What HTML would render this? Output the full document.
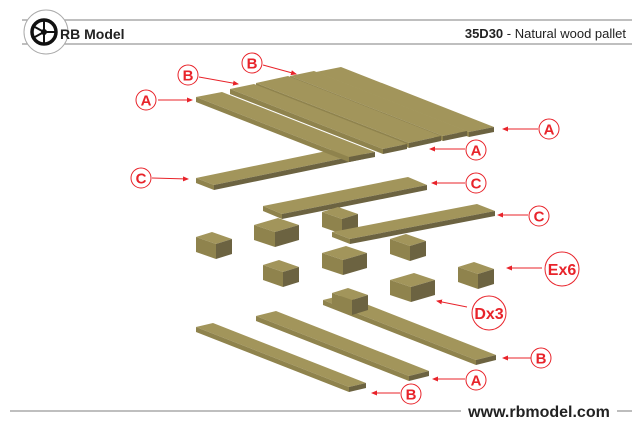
<!DOCTYPE html>
<html><head><meta charset="utf-8"><style>
html,body{margin:0;padding:0;background:#fff}
svg{display:block}
text{font-family:"Liberation Sans",Arial,sans-serif}
</style></head><body>
<svg width="640" height="427" viewBox="0 0 640 427" xmlns="http://www.w3.org/2000/svg">
<defs>
<g id="sb">
<polygon points="0,5 16,0 36,7 20,12" fill="#a2955b"/>
<polygon points="0,5 20,12 20,27 0,20" fill="#8f834d"/>
<polygon points="20,12 36,7 36,22 20,27" fill="#6c6341"/>
</g>
<g id="lb">
<polygon points="0,7 24,0 45,7 21,14" fill="#a2955b"/>
<polygon points="0,7 21,14 21,29 0,22" fill="#8f834d"/>
<polygon points="21,14 45,7 45,22 21,29" fill="#6c6341"/>
</g>
<marker id="ah" markerWidth="6" markerHeight="6" refX="5" refY="3" orient="auto" markerUnits="userSpaceOnUse">
<path d="M0,0.5 L6,3 L0,5.5 z" fill="#e8232a"/>
</marker>
</defs>

<!-- header -->
<line x1="22" y1="20" x2="632" y2="20" stroke="#999" stroke-width="1.3"/>
<line x1="22" y1="44" x2="632" y2="44" stroke="#999" stroke-width="1.3"/>
<circle cx="46" cy="32" r="22" fill="#fff" stroke="#aaa" stroke-width="1"/>
<circle cx="44" cy="32" r="12" fill="none" stroke="#111" stroke-width="3.5"/>
<circle cx="44" cy="32" r="3" fill="#111"/>
<g stroke="#111" stroke-width="2">
<line x1="44" y1="32" x2="44" y2="20"/><line x1="44" y1="32" x2="33" y2="26"/>
<line x1="44" y1="32" x2="33" y2="38"/><line x1="44" y1="32" x2="44" y2="44"/>
<line x1="44" y1="32" x2="55" y2="32"/>
</g>
<text x="60" y="39" font-size="14" font-weight="bold" fill="#222">RB Model</text>
<text x="626" y="38" font-size="13" fill="#222" text-anchor="end"><tspan font-weight="bold">35D30</tspan> - Natural wood pallet</text>

<!-- C1 -->
<polygon points="196,178 346,147 364,154 214,185" fill="#a2955b"/>
<polygon points="214,185 364,154 364,159 214,190" fill="#6c6341"/>
<polygon points="196,178 214,185 214,190 196,183" fill="#8f834d"/>

<!-- deck boards -->
<g>
<polygon points="316,72 341,67 494,127 469,132" fill="#a2955b"/>
<polygon points="316,72 469,132 469,137 316,77" fill="#8f834d"/>
<polygon points="469,132 494,127 494,132 469,137" fill="#6c6341"/>

<polygon points="290,76 314,71 467,131 443,136" fill="#a2955b"/>
<polygon points="290,76 443,136 443,141 290,81" fill="#8f834d"/>
<polygon points="443,136 467,131 467,136 443,141" fill="#6c6341"/>

<polygon points="256,83 288,76 441,136 409,143" fill="#a2955b"/>
<polygon points="256,83 409,143 409,148 256,88" fill="#8f834d"/>
<polygon points="409,143 441,136 441,141 409,148" fill="#6c6341"/>

<polygon points="230,89 254,84 407,144 383,149" fill="#a2955b"/>
<polygon points="230,89 383,149 383,154 230,94" fill="#8f834d"/>
<polygon points="383,149 407,144 407,149 383,154" fill="#6c6341"/>

<polygon points="196,97 222,92 375,152 349,157" fill="#a2955b"/>
<polygon points="196,97 349,157 349,162 196,102" fill="#8f834d"/>
<polygon points="349,157 375,152 375,157 349,162" fill="#6c6341"/>
</g>

<!-- C2 -->
<polygon points="263,206 408,177 427,185 282,214" fill="#a2955b"/>
<polygon points="282,214 427,185 427,190 282,219" fill="#6c6341"/>
<polygon points="263,206 282,214 282,219 263,211" fill="#8f834d"/>

<use href="#sb" x="196" y="232"/>
<use href="#lb" x="254" y="218"/>
<use href="#sb" x="322" y="207"/>

<!-- C3 -->
<polygon points="332,232 477,204 495,211 350,239" fill="#a2955b"/>
<polygon points="350,239 495,211 495,216 350,244" fill="#6c6341"/>
<polygon points="332,232 350,239 350,244 332,237" fill="#8f834d"/>

<use href="#sb" x="390" y="234"/>
<use href="#sb" x="263" y="260"/>
<use href="#lb" x="322" y="246"/>
<use href="#sb" x="458" y="262"/>
<use href="#lb" x="390" y="273"/>

<!-- bottom boards -->
<polygon points="323,300 343,295 496,355 476,360" fill="#a2955b"/>
<polygon points="323,300 476,360 476,365 323,305" fill="#8f834d"/>
<polygon points="476,360 496,355 496,360 476,365" fill="#6c6341"/>
<use href="#sb" x="332" y="288"/>

<polygon points="256,316 276,311 429,371 409,376" fill="#a2955b"/>
<polygon points="256,316 409,376 409,381 256,321" fill="#8f834d"/>
<polygon points="409,376 429,371 429,376 409,381" fill="#6c6341"/>

<polygon points="196,327 213,323 366,383 349,387" fill="#a2955b"/>
<polygon points="196,327 349,387 349,392 196,332" fill="#8f834d"/>
<polygon points="349,387 366,383 366,388 349,392" fill="#6c6341"/>

<!-- arrows -->
<g stroke="#e8232a" stroke-width="1" marker-end="url(#ah)">
<line x1="158" y1="100" x2="192" y2="100"/>
<line x1="199" y1="77" x2="238" y2="84"/>
<line x1="263" y1="65" x2="296" y2="74"/>
<line x1="538" y1="129" x2="503" y2="129"/>
<line x1="465" y1="149" x2="430" y2="149"/>
<line x1="152" y1="178" x2="188" y2="179"/>
<line x1="465" y1="183" x2="432" y2="183"/>
<line x1="528" y1="215" x2="498" y2="215"/>
<line x1="542" y1="268" x2="507" y2="268"/>
<line x1="467" y1="307" x2="437" y2="301"/>
<line x1="531" y1="358" x2="503" y2="358"/>
<line x1="465" y1="379" x2="433" y2="379"/>
<line x1="400" y1="393" x2="372" y2="393"/>
</g>

<!-- labels -->
<g fill="#fff" stroke="#e8232a" stroke-width="1">
<circle cx="146" cy="100" r="10"/>
<circle cx="188" cy="75" r="10"/>
<circle cx="252" cy="63" r="10"/>
<circle cx="549" cy="129" r="10"/>
<circle cx="476" cy="150" r="10"/>
<circle cx="141" cy="178" r="10"/>
<circle cx="476" cy="183" r="10"/>
<circle cx="539" cy="216" r="10"/>
<circle cx="562" cy="269" r="17"/>
<circle cx="489" cy="313" r="17"/>
<circle cx="541" cy="358" r="10"/>
<circle cx="476" cy="380" r="10"/>
<circle cx="411" cy="394" r="10"/>
</g>
<g fill="#e8232a" font-size="15" font-weight="bold" text-anchor="middle">
<text x="146" y="105.5">A</text>
<text x="188" y="80.5">B</text>
<text x="252" y="68.5">B</text>
<text x="549" y="134.5">A</text>
<text x="476" y="155.5">A</text>
<text x="141" y="183.5">C</text>
<text x="476" y="188.5">C</text>
<text x="539" y="221.5">C</text>
<text x="562" y="275" font-size="16">Ex6</text>
<text x="489" y="319" font-size="16">Dx3</text>
<text x="541" y="363.5">B</text>
<text x="476" y="385.5">A</text>
<text x="411" y="399.5">B</text>
</g>

<!-- footer -->
<line x1="10" y1="411" x2="461" y2="411" stroke="#999" stroke-width="1.3"/>
<line x1="617" y1="411" x2="632" y2="411" stroke="#999" stroke-width="1.3"/>
<text x="539" y="417" font-size="16" font-weight="bold" fill="#222" text-anchor="middle">www.rbmodel.com</text>
</svg>
</body></html>
